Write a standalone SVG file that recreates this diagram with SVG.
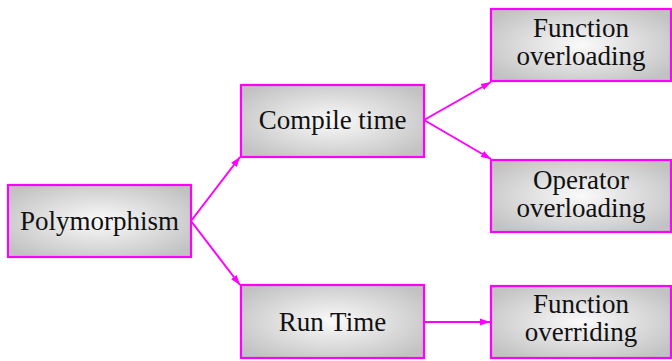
<svg xmlns="http://www.w3.org/2000/svg" width="672" height="361" viewBox="0 0 672 361">
<style>
.box{fill:url(#g);stroke:#ff00ff;stroke-width:2.2}
.t{font-family:"Liberation Serif","Times New Roman",serif;font-size:27px;fill:#111;text-anchor:middle}
.c{stroke:#ff00ff;stroke-width:2;fill:none;marker-end:url(#a)}
</style>
<defs>
<radialGradient id="g" cx="0.5" cy="0.5" r="0.62">
<stop offset="0" stop-color="#fafafa"/>
<stop offset="1" stop-color="#c2c2c2"/>
</radialGradient>
<marker id="a" viewBox="0 0 10 10" refX="10" refY="5" markerWidth="5" markerHeight="5" orient="auto" markerUnits="strokeWidth">
<path d="M0,1.5 L10,5 L0,8.5 z" fill="#ff00ff"/>
</marker>
</defs>
<g id="connectors">
<line class="c" x1="191" y1="221" x2="240" y2="157"/>
<line class="c" x1="191" y1="221" x2="240" y2="285"/>
<line class="c" x1="424" y1="120" x2="491" y2="82"/>
<line class="c" x1="424" y1="120" x2="491" y2="159"/>
<line class="c" x1="424" y1="322" x2="490" y2="322"/>
</g>
<g id="polymorphism">
<rect class="box" x="8" y="185" width="183" height="72"/>
<text class="t" x="99.5" y="230">Polymorphism</text>
</g>
<g id="compile">
<rect class="box" x="241" y="85" width="183" height="72"/>
<text class="t" x="332.5" y="129">Compile time</text>
</g>
<g id="runtime">
<rect class="box" x="241" y="285" width="183" height="73"/>
<text class="t" x="332.5" y="331">Run Time</text>
</g>
<g id="funcoverload">
<rect class="box" x="491" y="9" width="180" height="72"/>
<text class="t" x="581" y="37">Function</text>
<text class="t" x="581" y="65">overloading</text>
</g>
<g id="opoverload">
<rect class="box" x="491" y="160" width="180" height="72"/>
<text class="t" x="581" y="189">Operator</text>
<text class="t" x="581" y="217">overloading</text>
</g>
<g id="funcoverride">
<rect class="box" x="491" y="286" width="180" height="72"/>
<text class="t" x="581" y="313">Function</text>
<text class="t" x="581" y="341">overriding</text>
</g>
</svg>
